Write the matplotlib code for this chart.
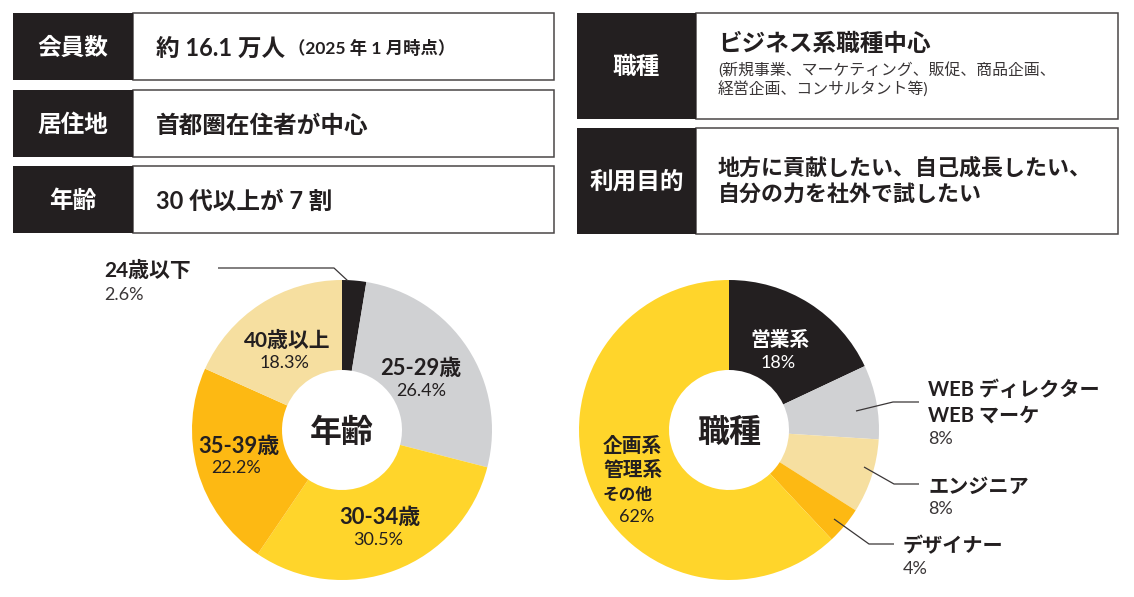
#!/usr/bin/env python3
# -*- coding: utf-8 -*-

##-Imports
import matplotlib
matplotlib.use('Agg')
import matplotlib.pyplot as plt
from matplotlib.patches import Rectangle

##-Data
age_labels = ['24歳以下', '25-29歳', '30-34歳', '35-39歳', '40歳以上']
age_values = [2.6, 26.4, 30.5, 22.2, 18.3]
job_labels = ['営業系', 'WEB ディレクター\nWEB マーケ', 'エンジニア', 'デザイナー', '企画系\n管理系\nその他']
job_values = [18, 8, 8, 4, 62]

age_colors = ['#231f20', '#d0d1d3', '#ffd52b', '#fdb913', '#f6dfa0']
job_colors = ['#231f20', '#d0d1d3', '#f6dfa0', '#fdb913', '#ffd52b']

W, H = 1134, 597
DARK = '#231f20'
GREY = '#4a4647'
SOFT = '#3a3637'
PCT = 13

plt.rcParams['font.family'] = ['Lato', 'Noto Sans CJK JP', 'DejaVu Sans']

fig = plt.figure(figsize=(W / 100, H / 100), dpi=100)
ax = fig.add_axes([0, 0, 1, 1])


def Y(y):
    '''Pixel row (from top) to axes y.'''
    return H - y


def txt(x, y, s, size, bold=True, color=DARK, ha='left'):
    ax.text(x, Y(y - 1.5), s, fontsize=size, fontweight='bold' if bold else 'normal',
            color=color, ha=ha, va='center_baseline', zorder=6)


def box(x0, x1, x2, y0, y1, label):
    ax.add_patch(Rectangle((x1, Y(y1)), x2 - x1, y1 - y0, fc='white', ec=GREY, lw=1.1, zorder=1))
    ax.add_patch(Rectangle((x0, Y(y1)), x1 - x0, y1 - y0, fc=DARK, ec='none', zorder=2))
    txt((x0 + x1) / 2, (y0 + y1) / 2, label, 17, color='white', ha='center')


def donut(cx, cy, values, colors):
    ax.pie(values, colors=colors, center=(cx, Y(cy)), radius=150, startangle=90,
           counterclock=False, wedgeprops={'width': 90, 'linewidth': 0})


def leader(xs, ys):
    ax.plot(xs, [Y(v) for v in ys], color=SOFT, lw=0.9, zorder=5, solid_capstyle='butt')


##-Boxes
box(13, 133, 554, 13, 80, '会員数')
box(13, 133, 554, 90, 157, '居住地')
box(13, 133, 554, 166, 233, '年齢')
box(577, 696, 1118, 13, 119, '職種')
box(577, 696, 1118, 128, 234, '利用目的')

txt(156, 48, '約 16.1 万人', 17)
txt(288, 48, '（2025 年 1 月時点）', 12.5)
txt(156, 125, '首都圏在住者が中心', 17)
txt(156, 201, '30 代以上が 7 割', 17)

txt(718, 43, 'ビジネス系職種中心', 17)
txt(718, 70, '(新規事業、マーケティング、販促、商品企画、', 11.4, bold=False, color=SOFT)
txt(718, 90, '経営企画、コンサルタント等)', 11.4, bold=False, color=SOFT)
txt(718, 167, '地方に貢献したい、自己成長したい、', 15.8)
txt(718, 195, '自分の力を社外で試したい', 15.8)

##-Pies
donut(342, 430, age_values, age_colors)
donut(729, 430, job_values, job_colors)

txt(342, 431, '年齢', 23, ha='center')
txt(729, 431, '職種', 23, ha='center')

# left pie labels
txt(104, 270, age_labels[0], 15)
txt(104, 295, f'{age_values[0]}%', PCT, bold=False, color=SOFT)
leader([218, 334, 348], [268, 268, 281])
txt(421, 368, age_labels[1], 15.8, ha='center')
txt(421, 391, f'{age_values[1]}%', PCT, bold=False, ha='center')
txt(380, 517, age_labels[2], 15.8, ha='center')
txt(378, 540, f'{age_values[2]}%', PCT, bold=False, ha='center')
txt(239, 446, age_labels[3], 15.8, ha='center')
txt(236, 468, f'{age_values[3]}%', PCT, bold=False, ha='center')
txt(287, 340, age_labels[4], 15, ha='center')
txt(284, 363, f'{age_values[4]}%', PCT, bold=False, ha='center')

# right pie labels
txt(780, 340, job_labels[0], 14.2, color='white', ha='center')
txt(778, 363, f'{job_values[0]}%', PCT, bold=False, color='white', ha='center')
lines = job_labels[1].split('\n')
txt(928, 389, lines[0], 14.5)
txt(928, 415, lines[1], 14.5)
txt(928, 439, f'{job_values[1]}%', PCT, bold=False, color=SOFT)
leader([856, 893, 919], [411, 402, 402])
txt(928, 486, job_labels[2], 14.5)
txt(928, 509, f'{job_values[2]}%', PCT, bold=False, color=SOFT)
leader([864, 894, 919], [467, 484, 484])
txt(903, 546, job_labels[3], 14.5)
txt(903, 569, f'{job_values[3]}%', PCT, bold=False, color=SOFT)
leader([834, 869, 894], [519, 544, 544])
lines = job_labels[4].split('\n')
txt(603, 445, lines[0], 14.2)
txt(603, 470, lines[1], 14.2)
txt(603, 495, lines[2], 12)
txt(619, 517, f'{job_values[4]}%', PCT, bold=False)

ax.set_xlim(0, W)
ax.set_ylim(0, H)
ax.axis('off')

fig.savefig('out.png', dpi=100, facecolor='white')
